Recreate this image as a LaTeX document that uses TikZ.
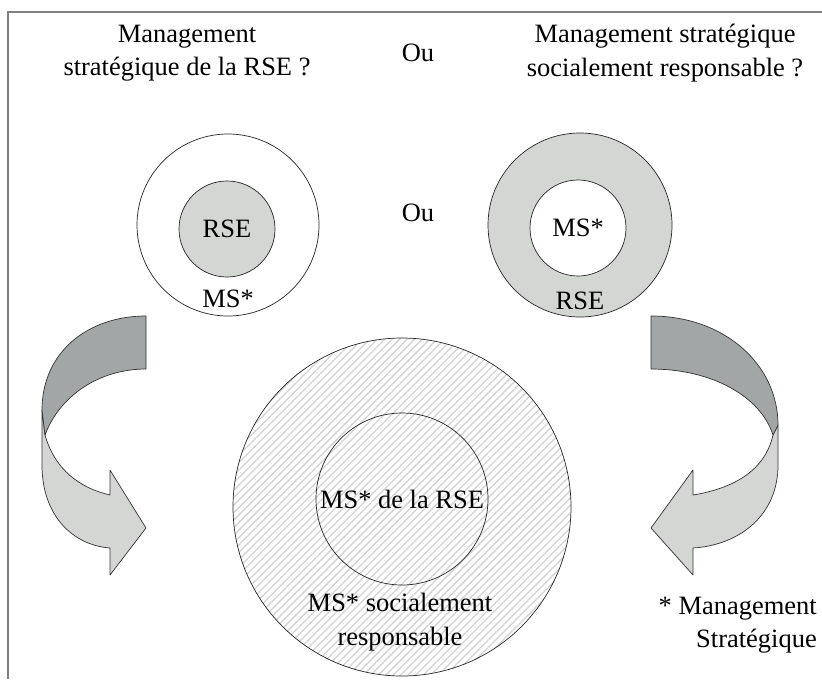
\documentclass[tikz,border=0pt]{standalone}
\usepackage{fontspec}
\setmainfont{Liberation Serif}
\usetikzlibrary{patterns.meta,positioning}
\definecolor{dgray}{rgb}{0.64 0.65 0.65}
\definecolor{lgray}{rgb}{0.83 0.84 0.83}

\begin{document}
\begin{tikzpicture}[x=0.85pt,y=-0.85pt,
  every node/.style={font=\fontsize{22.5}{28.5}\selectfont, align=center, inner sep=0pt},
  ring/.style={draw=black!85, line width=0.6pt},
  band/.style={draw=black!80, line width=0.6pt, line join=round}]
\useasboundingbox (0,0) rectangle (822,679);

% frame
\draw [gray, line width=1pt] (8,679) -- (8,12) -- (822,12);

% the two questions
\node (qleft) at (187,53) {Management\\strat\'egique de la RSE ?};
\node (outop) at (418,53) {Ou};
\node (qright) at (665,53) {Management strat\'egique\\socialement responsable ?};

% left rings
\draw [ring, fill=white] (228,225) circle [radius=91];
\draw [ring, fill=lgray] (227,229) circle [radius=48];
\node (rseleft) at (227,229) {RSE};
\node (msleft) at (228,299) {MS*};

\node (oumid) at (418,213) {Ou};

% right rings
\draw [ring, fill=lgray] (580,225) circle [radius=92];
\draw [ring, fill=white] (578,228) circle [radius=48];
\node (msright) at (578,228) {MS*};
\node (rseright) at (580,301) {RSE};

% the big hatched rings
\draw [ring, pattern={Lines[angle=45,distance=4.5pt,line width=1.1pt]}, pattern color=gray!35] (402,507) circle [radius=169];
\draw [ring] (402,499) circle [radius=86];
\node (msrse) at (402,499) {MS* de la RSE};
\node (mssr) at (400,622) {MS* socialement\\responsable};

% left twisted arrow
\draw [band, fill=lgray] (45,435) .. controls (55,470) and (80,488) .. (110,495) -- (110,470) -- (146,528) -- (110,575) -- (110,548)
  .. controls (72,545) and (42,515) .. (42,465) -- (42,410) -- cycle;
\draw [band, fill=dgray] (146,316) .. controls (88,316) and (42,352) .. (42,410) -- (45,435)
  .. controls (60,395) and (100,369) .. (146,369) -- cycle;

% right twisted arrow
\draw [band, fill=lgray] (773,435) .. controls (765,470) and (735,488) .. (693,495) -- (693,470) -- (651,528) -- (693,575) -- (693,548)
  .. controls (740,545) and (778,515) .. (778,465) -- (778,425) -- cycle;
\draw [band, fill=dgray] (651,316) .. controls (725,316) and (778,365) .. (778,425) -- (773,435)
  .. controls (760,395) and (710,369) .. (651,369) -- cycle;

% footnote
\node [anchor=east, align=right] (note) at (817,625) {* Management\\Strat\'egique};
\end{tikzpicture}
\end{document}
